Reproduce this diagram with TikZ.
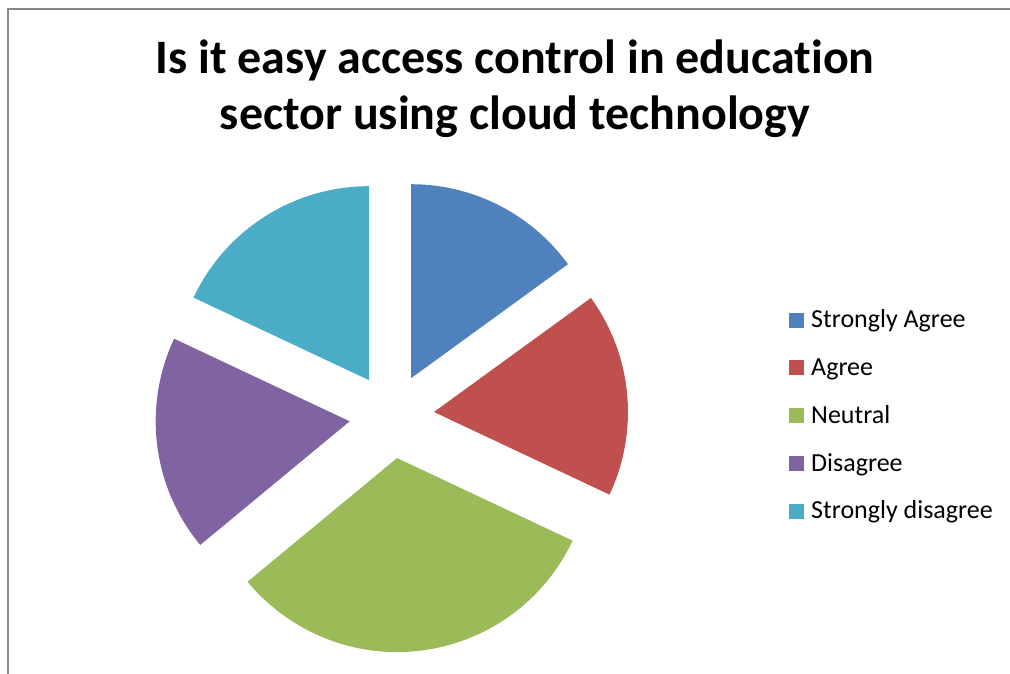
\documentclass[tikz,border=0pt]{standalone}
\usepackage{fontspec}
\setmainfont{Carlito}[Ligatures=NoCommon]
\usetikzlibrary{calc}
\definecolor{sagree}{HTML}{4F81BD}
\definecolor{agree}{HTML}{C0504D}
\definecolor{neutral}{HTML}{9BBB59}
\definecolor{disagree}{HTML}{8064A2}
\definecolor{sdisagree}{HTML}{4BACC6}
\definecolor{framegray}{HTML}{888888}
\begin{document}
\begin{tikzpicture}[x=1pt,y=1pt,
  titletext/.style={font=\fontsize{48}{56}\selectfont\bfseries, anchor=base, inner sep=0pt},
  legtext/.style={font=\fontsize{26}{30}\selectfont, anchor=base west, inner sep=0pt},
  legkey/.style={minimum size=15pt, inner sep=0pt, anchor=south west}]
\useasboundingbox (0,0) rectangle (1010,674);
% chart frame (cropped)
\draw[framegray, line width=1.5pt] (8,0) -- (8,665) -- (1010,665);
% title
\node[titletext] (t1) at (515,600) {Is it easy access control in education};
\node[titletext] (t2) at (515,544) {sector using cloud technology};
% pie
\def\cx{391.75}\def\cy{258}\def\r{194}\def\d{42.4}
\foreach \s/\e/\c in {90/36/sagree, 36/-25.2/agree, -25.2/-140.4/neutral, 219.6/154.8/disagree, 154.8/90/sdisagree}{
  \pgfmathsetmacro{\b}{(\s+\e)/2}
  \fill[\c] ($(\cx,\cy)+(\b:\d)$) -- ++(\s:\r) arc[start angle=\s, end angle=\e, radius=\r] -- cycle;
}
% legend
\node[legkey, fill=sagree] (k1) at (789,346) {};
\node[legtext] (l1) at (811,346) {Strongly Agree};
\node[legkey, fill=agree] (k2) at (789,298.5) {};
\node[legtext] (l2) at (811,298.5) {Agree};
\node[legkey, fill=neutral] (k3) at (789,250.5) {};
\node[legtext] (l3) at (811,250.5) {Neutral};
\node[legkey, fill=disagree] (k4) at (789,202.5) {};
\node[legtext] (l4) at (811,202.5) {Disagree};
\node[legkey, fill=sdisagree] (k5) at (789,155) {};
\node[legtext] (l5) at (811,155) {Strongly disagree};
\end{tikzpicture}
\end{document}
